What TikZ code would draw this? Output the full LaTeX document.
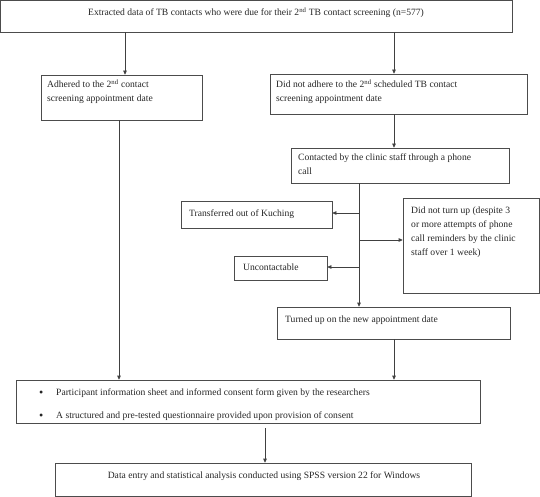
\documentclass[tikz,border=0pt]{standalone}
\usepackage{fontspec}
\setmainfont{Liberation Serif}
\usetikzlibrary{arrows.meta,fit}
\begin{document}
\begin{tikzpicture}[x=1pt,y=-1pt,
  box/.style={draw=black!70, line width=0.7pt, inner sep=0pt, fit={#1}},
  txt/.style={inner sep=0pt, align=left, text=black!85, font=\fontsize{9.6}{14}\selectfont},
  conn/.style={draw=black!75, line width=0.7pt},
  arr/.style={conn, -{Triangle[length=4pt,width=3.6pt]}}]
\useasboundingbox (0,0) rectangle (540,497);

% boxes
\node[box={(0.5,0.5) (512,32)}] (top) {};
\node[box={(41,75) (202,120)}] (adh) {};
\node[box={(270,74) (527,114)}] (nadh) {};
\node[box={(291,148) (509,183)}] (cont) {};
\node[box={(181,201) (332,228)}] (trans) {};
\node[box={(403,198) (539.5,293)}] (noturn) {};
\node[box={(234,256) (327,280)}] (uncon) {};
\node[box={(277,307) (510,339)}] (turned) {};
\node[box={(16,380) (480,423)}] (part) {};
\node[box={(55,463) (471,496)}] (data) {};

% texts (multi-line nodes: base = baseline of last line)
\node[txt, anchor=base] (topt) at (256,16) {Extracted data of TB contacts who were due for their 2\textsuperscript{nd} TB contact screening (n=577)};
\node[txt, anchor=base west] (adht) at (47,102) {Adhered to the 2\textsuperscript{nd} contact\\screening appointment date};
\node[txt, anchor=base west] (nadht) at (276,102) {Did not adhere to the 2\textsuperscript{nd} scheduled TB contact\\screening appointment date};
\node[txt, anchor=base west] (contt) at (298,175) {Contacted by the clinic staff through a phone\\call};
\node[txt, anchor=base west] (transt) at (189,216) {Transferred out of Kuching};
\node[txt, anchor=base west] (noturnt) at (411,255) {Did not turn up (despite 3\\or more attempts of phone\\call reminders by the clinic\\staff over 1 week)};
\node[txt, anchor=base west] (uncont) at (243,270) {Uncontactable};
\node[txt, anchor=base west] (turnedt) at (285,322) {Turned up on the new appointment date};
\node[txt, anchor=base west, font=\fontsize{12}{14}\selectfont] (b1) at (39,396) {\textbullet};
\node[txt, anchor=base west] (p1) at (56,395) {Participant information sheet and informed consent form given by the researchers};
\node[txt, anchor=base west, font=\fontsize{12}{14}\selectfont] (b2) at (39,419) {\textbullet};
\node[txt, anchor=base west] (p2) at (56,418) {A structured and pre-tested questionnaire provided upon provision of consent};
\node[txt, anchor=base] (datat) at (264,478) {Data entry and statistical analysis conducted using SPSS version 22 for Windows};

% connectors
\draw[arr] (top.south -| 125,0) -- (adh.north -| 125,0);
\draw[arr] (top.south -| 394,0) -- (nadh.north -| 394,0);
\draw[arr] (nadh.south -| 394,0) -- (cont.north -| 394,0);
\draw[arr] (cont.south -| 359,0) -- (turned.north -| 359,0);
\draw[arr] (359,213) -- (trans.east |- 0,213);
\draw[arr] (359,240) -- (noturn.west |- 0,240);
\draw[arr] (359,267) -- (uncon.east |- 0,267);
\draw[arr] (turned.south -| 394,0) -- (part.north -| 394,0);
\draw[arr] (adh.south -| 119,0) -- (part.north -| 119,0);
\draw[arr] (265,428) -- (data.north -| 265,0);
\end{tikzpicture}
\end{document}
